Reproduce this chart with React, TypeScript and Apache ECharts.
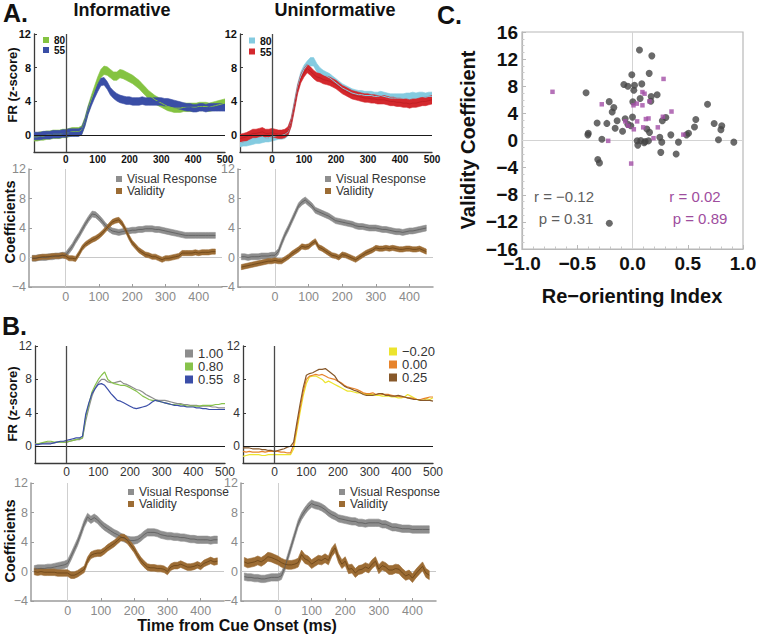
import React, { useEffect, useRef } from "react";
import * as echarts from "echarts";

// ---------- time bases (ms from cue onset) ----------
const frTimes = [-100,-90,-80,-70,-60,-50,-40,-30,-20,-10,0,10,20,30,40,50,60,70,80,90,100,110,120,130,140,150,160,170,180,190,200,210,220,230,240,250,260,270,280,290,300,310,320,330,340,350,360,370,380,390,400,410,420,430,440,450,460,470,480,490,500];
const coefTimes = [-100,-90,-80,-70,-60,-50,-40,-30,-20,-10,0,10,20,30,40,50,60,70,80,90,100,110,120,130,140,150,160,170,180,190,200,210,220,230,240,250,260,270,280,290,300,310,320,330,340,350,360,370,380,390,400,410,420,430,440,450];

// ---------- Panel A: firing rate ----------
const infoFr80 = [-0.2,-0.2,-0.1,-0.1,0.0,0.0,0.1,0.1,0.1,0.2, 0.2,0.3,0.4,0.4,0.4,0.6, 1.6,3.0,4.2,5.3,6.4,7.3,7.7, 7.6,7.3,7.0,7.0,7.3,7.2,7.0,6.8, 6.6,6.3,6.0,5.6,5.2,4.8,4.5,4.2,4.0,3.8, 3.6,3.4,3.3,3.2,3.2,3.2,3.3,3.3,3.3,3.3, 3.3,3.4,3.4,3.4,3.3,3.4,3.5,3.6,3.7,3.8];
const infoFr55 = [-0.1,-0.1,-0.1,0.0,0.0,0.0,0.1,0.1,0.1,0.2, 0.2,0.3,0.3,0.3,0.3,0.5, 1.5,2.9,3.9,4.8,5.6,6.3,6.4, 5.9,5.2,4.8,4.5,4.3,4.2,4.1,4.1, 4.0,4.0,4.0,4.1,4.0,4.0,4.0,4.0,4.0,4.0, 3.9,3.9,3.8,3.7,3.6,3.5,3.4,3.3,3.3,3.2, 3.2,3.3,3.3,3.2,3.3,3.3,3.3,3.3,3.3,3.3];
const uninfoFr80 = [-0.9,-0.8,-0.8,-0.7,-0.6,-0.5,-0.5,-0.4,-0.3,-0.3, -0.2,-0.1,0.0,0.0,0.1,0.4, 1.6,3.6,5.6,7.0,7.8,8.3,8.7, 8.7,8.0,7.5,7.2,7.0,6.8,6.5,6.2, 5.9,5.6,5.4,5.2,5.0,4.9,4.8,4.8,4.7,4.7, 4.7,4.6,4.6,4.7,4.6,4.5,4.4,4.4,4.4,4.4, 4.4,4.5,4.5,4.6,4.5,4.6,4.6,4.5,4.6,4.6];
const uninfoFr55 = [-0.4,-0.3,-0.2,0.0,0.2,0.2,0.3,0.4,0.2,0.2, 0.3,0.2,0.1,0.1,0.2,0.5, 1.5,3.4,5.4,6.7,7.4,7.9,7.6, 7.2,6.9,6.8,6.6,6.5,6.4,6.2,6.0, 5.7,5.4,5.2,5.0,4.8,4.7,4.6,4.5,4.4,4.4, 4.3,4.3,4.2,4.2,4.2,4.1,4.0,4.0,3.9,3.9, 3.8,3.8,3.7,3.8,3.8,3.9,4.0,4.0,4.1,4.2];

// ---------- Panel A: coefficients ----------
const infoVisual = [-0.1,-0.1,0.0,0.0,0.0,0.1,0.1,0.2,0.2,0.3, 0.3,0.9,1.5,2.3,3.0,3.8,4.6,5.3,5.9,5.8, 5.4,4.9,4.3,3.9,3.6,3.5,3.4,3.5,3.6,3.6, 3.7,3.7,3.8,3.8,3.9,3.9,3.9,3.8,3.8,3.7, 3.6,3.5,3.4,3.3,3.2,3.1,3.0,3.0,3.0,3.0, 3.0,3.0,3.0,3.0,3.0,3.0];
const infoValidity = [-0.1,-0.1,0.0,0.1,0.1,0.1,0.2,0.2,0.2,0.3, 0.2,-0.1,-0.1,-0.2,0.5,1.3,1.8,2.1,2.4,2.6, 2.9,3.3,3.8,4.3,4.8,5.0,5.1,4.6,3.8,2.8, 2.0,1.5,1.0,0.7,0.4,0.3,0.1,0.1,-0.1,-0.3, -0.1,-0.1,0.0,0.1,0.2,0.6,0.6,0.6,0.6,0.7, 0.6,0.7,0.7,0.7,0.8,0.8];
const uninfoVisual = [0.1,0.1,0.0,0.1,0.1,0.1,0.2,0.2,0.2,0.3, 0.3,0.8,2.0,3.1,4.0,5.0,6.0,7.0,7.5,7.8, 7.4,7.0,6.4,6.2,6.0,5.8,5.6,5.3,5.0,4.9, 4.8,4.7,4.6,4.5,4.3,4.2,4.2,4.1,4.0,4.0, 4.0,3.9,3.8,3.8,3.7,3.6,3.5,3.5,3.4,3.5, 3.6,3.6,3.7,3.8,3.9,4.0];
const uninfoValidity = [-1.3,-1.2,-1.1,-1.0,-0.9,-0.8,-0.7,-0.6,-0.5,-0.5, -0.4,-0.5,-0.5,-0.2,0.1,0.5,0.8,1.1,1.5,1.4, 1.5,1.9,2.2,1.4,1.2,0.9,0.6,0.3,0.2,0.0, 0.4,0.3,0.1,-0.1,-0.3,0.0,0.3,0.6,0.8,1.0, 1.3,1.2,1.2,1.3,1.2,1.3,1.2,1.1,1.1,1.2, 1.2,1.1,1.1,1.2,1.0,0.8];

// ---------- Panel B: firing rate by validity level ----------
const bInfo100 = [0.3,0.3,0.3,0.4,0.4,0.4,0.4,0.5,0.5,0.5, 0.5,0.6,0.7,0.8,0.8,1.0, 3.0,4.6,6.0,7.0,7.6,8.0,8.0, 7.7,7.6,7.6,7.7,7.8,7.5,7.4,7.2, 7.0,6.8,6.7,6.5,6.2,6.0,5.8,5.6,5.5,5.5, 5.5,5.4,5.3,5.2,5.1,5.1,5.0,5.0,4.9,4.9, 4.9,4.8,4.8,4.8,4.8,4.7,4.7,4.6,4.6,4.6];
const bInfo080 = [0.2,0.3,0.4,0.5,0.6,0.6,0.5,0.5,0.5,0.5, 0.5,0.6,0.7,0.8,0.9,1.0, 3.5,5.0,6.5,7.3,8.0,8.5,8.9, 8.0,7.7,7.5,7.4,7.3,7.3,7.2,7.0, 6.8,6.6,6.3,6.0,5.8,5.6,5.5,5.5,5.4,5.3, 5.2,5.1,5.0,5.0,4.9,5.0,4.9,4.8,4.8,4.8, 4.8,4.8,4.9,4.9,4.9,4.9,5.0,5.0,5.1,5.1];
const bInfo055 = [0.2,0.2,0.3,0.3,0.3,0.3,0.4,0.5,0.6,0.6, 0.7,0.8,0.9,1.0,1.0,1.2, 3.8,5.2,6.3,6.9,7.4,7.5,7.3, 6.8,6.3,5.9,5.5,5.4,5.2,5.0,4.8, 4.6,4.5,4.6,4.7,4.8,5.0,5.3,5.5,5.4,5.3, 5.2,5.1,5.0,4.9,4.9,4.8,4.8,4.7,4.7,4.7, 4.6,4.6,4.5,4.5,4.4,4.4,4.4,4.4,4.4,4.4];
const bUninfoM020 = [-1.2,-1.1,-1.0,-1.0,-1.0,-1.0,-1.1,-1.1,-1.0,-1.0, -1.0,-1.0,-1.0,-1.0,-1.0,-1.0, -0.3,1.8,4.0,6.0,7.5,8.3,8.4, 8.4,8.2,8.0,7.6,7.8,7.6,7.4,7.2, 7.0,6.8,6.6,6.6,6.5,6.4,6.4,6.3,6.2,6.2, 6.2,6.1,6.1,6.0,6.0,6.0,5.9,5.9,5.8,5.8, 5.9,6.2,6.0,5.8,5.6,5.5,5.5,5.7,5.6,5.8];
const bUninfo000 = [-0.6,-0.7,-0.6,-0.7,-0.7,-0.7,-0.6,-0.7,-0.6,-0.6, -0.6,-0.6,-0.7,-0.7,-0.8,-0.8, 0.2,2.3,4.5,6.5,8.0,8.4,8.5, 8.6,8.5,8.6,8.4,8.2,8.1,8.0,7.8, 7.6,7.3,7.1,7.0,6.9,6.8,6.6,6.4,6.3,6.3, 6.4,6.2,6.3,6.2,6.2,6.2,6.1,6.0,6.0,5.9, 5.9,5.8,5.8,5.7,5.6,5.6,5.7,5.8,5.9,5.9];
const bUninfo025 = [-0.2,-0.2,-0.2,-0.3,-0.3,-0.3,-0.4,-0.4,-0.5,-0.5, -0.6,-0.5,-0.4,-0.3,-0.1,0.0, 0.5,2.8,5.0,7.0,8.5,8.7,8.8, 9.0,9.2,9.2,9.3,9.0,8.7,8.4,7.8, 7.5,7.2,7.0,6.9,6.7,6.6,6.4,6.2,6.1,6.1, 6.1,6.2,6.3,6.3,6.1,6.1,6.0,6.0,6.1,6.0, 5.9,5.8,5.7,5.6,5.6,5.5,5.5,5.5,5.5,5.4];

// ---------- Panel B: coefficients ----------
const bInfoVisual = [0.3,0.4,0.4,0.4,0.5,0.5,0.6,0.7,0.8,0.9, 1.1,2.0,3.0,4.0,5.2,6.5,7.4,7.0,7.3,7.0, 6.5,6.1,5.8,5.5,5.2,5.0,4.7,4.5,4.3,4.2, 4.2,4.3,4.6,5.0,5.3,5.3,5.3,5.2,5.0,4.9, 4.8,4.8,4.7,4.7,4.6,4.6,4.5,4.4,4.4,4.3, 4.3,4.3,4.3,4.2,4.3,4.3];
const bInfoValidity = [0.0,-0.1,0.0,-0.1,-0.1,-0.1,-0.1,-0.2,-0.2,-0.2, -0.2,-0.5,-0.5,-0.3,0.0,0.3,1.5,2.2,2.4,2.5, 2.5,2.8,3.2,3.5,3.8,4.2,4.6,4.6,4.2,3.6, 3.0,2.2,1.5,1.0,0.6,0.5,0.5,0.4,0.4,0.3, 0.0,0.6,0.8,0.8,1.0,0.8,0.6,0.6,0.7,0.9, 0.7,1.1,1.3,1.5,1.3,1.4];
const bUninfoVisual = [-0.7,-0.8,-0.8,-0.9,-0.9,-1.0,-1.0,-0.9,-0.8,-0.8, -0.8,-0.6,0.5,2.0,3.5,5.0,6.5,7.5,8.2,8.8, 9.2,9.0,8.9,8.7,8.4,8.0,7.7,7.5,7.2,7.1, 7.0,6.9,6.8,6.8,6.6,6.6,6.5,6.6,6.6,6.6, 6.6,6.4,6.4,6.2,6.0,6.0,5.9,5.8,5.8,5.8, 5.7,5.7,5.7,5.7,5.7,5.7];
const bUninfoValidity = [1.3,1.1,1.2,1.3,1.5,1.3,1.6,2.0,1.9,1.7, 1.5,1.2,1.0,0.9,0.9,1.0,1.2,2.3,1.7,1.5, 1.0,1.3,1.6,1.5,1.8,1.5,2.6,3.2,1.8,1.0, 1.4,0.3,0.4,-0.2,0.2,0.3,0.6,0.4,1.0,1.4, 0.3,0.8,0.6,0.2,0.2,0.4,0.3,-0.2,-0.6,-0.4, -0.9,-0.3,0.2,0.7,-0.2,-0.5];

// ---------- standard-error half widths of the ribbons ----------
const seInfo80 = 0.5, seInfo55 = 0.45, seUninfo80 = 0.5, seUninfo55 = 0.5;
const seAVisual = 0.4, seAValidity = 0.35;
const seBVisual = 0.5, seBInfoValidity = 0.45, seBUninfoValidity = 0.6;

// ---------- Panel C: scatter ----------
const neuronsGray: number[][] = [[0.063,13.35],[0.175,12.48],[-0.006,9.7],[0.151,9.9],[-0.078,8.25],[-0.042,8.0],[0.018,8.15],[0.084,8.35],[0.012,7.4],[-0.42,7.04],[0.223,6.75],[0.169,6.5],[0.166,5.8],[0.069,6.2],[0.003,5.7],[-0.211,5.73],[-0.169,4.85],[-0.184,4.2],[0.679,5.34],[-0.32,2.57],[-0.232,2.52],[-0.139,2.9],[-0.066,3.2],[0.0,3.45],[-0.042,2.38],[-0.015,2.18],[-0.157,1.8],[-0.09,1.36],[0.302,3.4],[0.27,2.9],[0.573,3.1],[0.561,2.0],[0.739,2.5],[0.808,2.18],[0.8,1.6],[-0.4,1.07],[-0.404,0.83],[-0.277,0.19],[0.13,1.7],[0.154,1.2],[0.347,0.83],[0.507,1.07],[0.489,0.83],[0.247,0.49],[0.265,-0.24],[0.416,-0.24],[0.042,-0.05],[0.075,0.0],[0.115,-0.15],[0.145,-0.05],[0.048,-0.68],[0.106,-0.34],[0.778,0.1],[0.917,-0.24],[0.256,-1.75],[0.395,-1.99],[-0.314,-2.8],[-0.299,-3.3],[-0.21,-12.2]];
const neuronsPurple: number[][] = [[-0.724,7.18],[0.281,9.08],[0.09,7.14],[0.109,6.9],[0.154,5.78],[-0.278,5.34],[0.009,5.19],[0.039,5.44],[0.09,5.19],[0.353,4.27],[0.275,3.5],[0.121,3.16],[0.145,3.25],[0.042,2.82],[-0.066,2.82],[-0.039,2.18],[0.012,1.65],[0.097,1.94],[0.229,1.94],[0.46,0.87],[0.19,0.34],[-0.22,-0.05],[-0.012,-3.4]];

// tick labels
const frTickX = [0, 100, 200, 300, 400, 500];
const frTickY = [0, 4, 8, 12];
const coefTickX = [0, 100, 200, 300, 400];
const coefTickY = [-4, 0, 4, 8, 12];

const FONT = '"Liberation Sans", Arial, Helvetica, sans-serif';
const neg = (s: string) => s.replace("-", "\u2212");

const C = {
  green: "#84c341", blue: "#3a4ea6", cyan: "#84cbe0", red: "#d3282d",
  grayBand: "#8e8e8e", grayLine: "#5c5c5c", brownBand: "#9c6c34", brownLine: "#6a4418",
  bGray: "#8d8d8d", bGreen: "#87c24b", bBlue: "#3b4ea8",
  yellow: "#ece42e", orange: "#e7832b", brown25: "#87582a",
  dot: "#454545", purple: "#a24fa6",
};

function band(g: number, times: number[], vals: number[], hw: number, color: string) {
  return {
    type: "custom", xAxisIndex: g, yAxisIndex: g, silent: true, clip: true,
    data: times.map((t, i) => [t, vals[i] - hw, vals[i] + hw]),
    encode: { x: 0, y: [1, 2] },
    renderItem: (params: any, api: any) => {
      if (params.dataIndex !== 0) return null;
      const up = times.map((t, i) => api.coord([t, vals[i] + hw]));
      const lo = times.map((t, i) => api.coord([t, vals[i] - hw])).reverse();
      return { type: "polygon", shape: { points: up.concat(lo) }, style: { fill: color, stroke: color, lineWidth: 0.6 } };
    },
  };
}

function line(g: number, name: string, times: number[], vals: number[], color: string, width: number, markLine?: any) {
  const s: any = {
    type: "line", name, xAxisIndex: g, yAxisIndex: g, silent: true,
    showSymbol: false, symbol: "none",
    data: times.map((t, i) => [t, vals[i]]),
    lineStyle: { color, width }, itemStyle: { color },
  };
  if (markLine) s.markLine = markLine;
  return s;
}

const frMarks = {
  silent: true, symbol: ["none", "none"], label: { show: false }, z: 5,
  data: [
    { yAxis: 0, lineStyle: { color: "#1a1a1a", width: 1, type: "solid" } },
    { xAxis: 0, lineStyle: { color: "#4a4a4a", width: 1.3, type: "solid" } },
  ],
};
const coefMarks = {
  silent: true, symbol: ["none", "none"], label: { show: false }, z: 1,
  data: [
    { yAxis: 0, lineStyle: { color: "#c8c8c8", width: 1, type: "solid" } },
    { xAxis: 0, lineStyle: { color: "#cfcfcf", width: 1, type: "solid" } },
  ],
};

function frX(g: number, boldLabels: boolean) {
  return {
    gridIndex: g, type: "value", min: -100, max: 500,
    axisLine: { show: true, onZero: false, lineStyle: { color: "#3a3a3a", width: 1.3 } },
    axisTick: { show: false }, splitLine: { show: false },
    axisLabel: {
      customValues: frTickX, margin: boldLabels ? 2 : 3,
      fontSize: boldLabels ? 10 : 12, fontWeight: boldLabels ? "bold" : "normal",
      color: boldLabels ? "#111" : "#333", fontFamily: FONT,
    },
  };
}
function frY(g: number, boldLabels: boolean) {
  return {
    gridIndex: g, type: "value", min: -2, max: 12,
    axisLine: { show: true, onZero: false, lineStyle: { color: "#3a3a3a", width: 1.3 } },
    axisTick: { show: true, inside: true, length: 3, customValues: frTickY, lineStyle: { color: "#3a3a3a" } },
    splitLine: { show: false },
    axisLabel: {
      customValues: frTickY, margin: 3,
      fontSize: boldLabels ? 11 : 12, fontWeight: boldLabels ? "bold" : "normal",
      color: boldLabels ? "#111" : "#333", fontFamily: FONT,
    },
  };
}
function coefX(g: number) {
  return {
    gridIndex: g, type: "value", min: -110, max: 470,
    axisLine: { show: true, onZero: false, lineStyle: { color: "#9c9c9c", width: 1.5 } },
    axisTick: { show: true, inside: true, length: 3, customValues: coefTickX, lineStyle: { color: "#9c9c9c" } },
    splitLine: { show: false },
    axisLabel: { customValues: coefTickX, margin: 3, fontSize: 12.5, color: "#8a8a8a", fontFamily: FONT },
  };
}
function coefY(g: number) {
  return {
    gridIndex: g, type: "value", min: -4, max: 12,
    axisLine: { show: true, onZero: false, lineStyle: { color: "#9c9c9c", width: 1.5 } },
    axisTick: { show: true, inside: true, length: 3, customValues: coefTickY, lineStyle: { color: "#9c9c9c" } },
    splitLine: { show: false },
    axisLabel: {
      customValues: coefTickY, margin: 3, fontSize: 12.5, color: "#8a8a8a", fontFamily: FONT,
      formatter: (v: number) => neg(String(v)),
    },
  };
}

function legendBox(left: number, top: number, items: { name: string; color: string }[], size: number, fontSize: number, bold: boolean, color: string) {
  return {
    left, top, orient: "vertical", icon: "rect", itemWidth: size, itemHeight: size, itemGap: 0, padding: 0,
    selectedMode: false,
    textStyle: { fontSize, fontWeight: bold ? "bold" : "normal", color, fontFamily: FONT },
    data: items.map((it) => ({ name: it.name, itemStyle: { color: it.color, borderWidth: 0 } })),
  };
}

function txt(text: string, x: number, y: number, size: number, opts: any = {}) {
  return {
    type: "text", x, y, rotation: opts.rotation || 0, silent: true,
    style: {
      text, fontSize: size, fontWeight: opts.weight || "bold", fontFamily: FONT,
      fill: opts.fill || "#111",
      align: opts.align || "center", textAlign: opts.align || "center",
      verticalAlign: "middle", textVerticalAlign: "middle",
    },
  };
}

function buildOption() {
  const grids = [
    { left: 34, top: 34, width: 191, height: 118 },
    { left: 240, top: 34, width: 192, height: 118 },
    { left: 29, top: 169, width: 193, height: 118 },
    { left: 238, top: 169, width: 195, height: 118 },
    { left: 35, top: 346, width: 190, height: 117 },
    { left: 243, top: 346, width: 190, height: 117 },
    { left: 31, top: 483, width: 193, height: 118 },
    { left: 241, top: 483, width: 195, height: 118 },
    { left: 522, top: 32, width: 221, height: 217, show: true, borderColor: "#b8b8b8", borderWidth: 1.2 },
  ].map((g: any) => ({ ...g, containLabel: false, outerBoundsMode: "none" }));

  const xAxis: any[] = [
    frX(0, true), frX(1, true), coefX(2), coefX(3), frX(4, false), frX(5, false), coefX(6), coefX(7),
    {
      gridIndex: 8, type: "value", min: -1, max: 1, interval: 0.5,
      axisLine: { show: true, onZero: false, lineStyle: { color: "#b8b8b8", width: 1.2 } },
      axisTick: { show: true, inside: true, length: 4, lineStyle: { color: "#b8b8b8" } },
      minorTick: { show: true, splitNumber: 5, length: 2.5, lineStyle: { color: "#c8c8c8" } },
      splitLine: { show: false },
      axisLabel: { fontSize: 19, fontWeight: "bold", color: "#111", margin: 5, fontFamily: FONT, formatter: (v: number) => neg(v.toFixed(1)) },
    },
  ];
  const yAxis: any[] = [
    frY(0, true), frY(1, true), coefY(2), coefY(3), frY(4, false), frY(5, false), coefY(6), coefY(7),
    {
      gridIndex: 8, type: "value", min: -16, max: 16, interval: 4,
      axisLine: { show: true, onZero: false, lineStyle: { color: "#b8b8b8", width: 1.2 } },
      axisTick: { show: true, inside: true, length: 4, lineStyle: { color: "#b8b8b8" } },
      minorTick: { show: true, splitNumber: 4, length: 2.5, lineStyle: { color: "#c8c8c8" } },
      splitLine: { show: false },
      axisLabel: { fontSize: 19, fontWeight: "bold", color: "#111", margin: 4, fontFamily: FONT, formatter: (v: number) => neg(String(v)) },
    },
  ];

  const series: any[] = [
    // A top-left: informative FR
    band(0, frTimes, infoFr80, seInfo80, C.green),
    line(0, "80", frTimes, infoFr80, C.green, 1, frMarks),
    band(0, frTimes, infoFr55, seInfo55, C.blue),
    line(0, "55", frTimes, infoFr55, C.blue, 1),
    // A top-right: uninformative FR
    band(1, frTimes, uninfoFr80, seUninfo80, C.cyan),
    line(1, "80", frTimes, uninfoFr80, C.cyan, 1, frMarks),
    band(1, frTimes, uninfoFr55, seUninfo55, C.red),
    line(1, "55", frTimes, uninfoFr55, "#c01f24", 1),
    // A bottom-left
    band(2, coefTimes, infoVisual, seAVisual, C.grayBand),
    line(2, "Visual Response", coefTimes, infoVisual, C.grayLine, 0.8, coefMarks),
    band(2, coefTimes, infoValidity, seAValidity, C.brownBand),
    line(2, "Validity", coefTimes, infoValidity, C.brownLine, 0.8),
    // A bottom-right
    band(3, coefTimes, uninfoVisual, seAVisual, C.grayBand),
    line(3, "Visual Response", coefTimes, uninfoVisual, C.grayLine, 0.8, coefMarks),
    band(3, coefTimes, uninfoValidity, seAValidity, C.brownBand),
    line(3, "Validity", coefTimes, uninfoValidity, C.brownLine, 0.8),
    // B top-left
    line(4, "1.00", frTimes, bInfo100, C.bGray, 1.2, frMarks),
    line(4, "0.80", frTimes, bInfo080, C.bGreen, 1.2),
    line(4, "0.55", frTimes, bInfo055, C.bBlue, 1.2),
    // B top-right
    line(5, "\u22120.20", frTimes, bUninfoM020, C.yellow, 1.2, frMarks),
    line(5, "0.00", frTimes, bUninfo000, C.orange, 1.2),
    line(5, "0.25", frTimes, bUninfo025, C.brown25, 1.2),
    // B bottom-left
    band(6, coefTimes, bInfoVisual, seBVisual, C.grayBand),
    line(6, "Visual Response", coefTimes, bInfoVisual, C.grayLine, 0.8, coefMarks),
    band(6, coefTimes, bInfoValidity, seBInfoValidity, C.brownBand),
    line(6, "Validity", coefTimes, bInfoValidity, C.brownLine, 0.8),
    // B bottom-right
    band(7, coefTimes, bUninfoVisual, seBVisual, C.grayBand),
    line(7, "Visual Response", coefTimes, bUninfoVisual, C.grayLine, 0.8, coefMarks),
    band(7, coefTimes, bUninfoValidity, seBUninfoValidity, C.brownBand),
    line(7, "Validity", coefTimes, bUninfoValidity, C.brownLine, 0.8),
    // C scatter
    {
      type: "scatter", name: "all neurons", xAxisIndex: 8, yAxisIndex: 8, silent: true,
      symbol: "circle", symbolSize: 7, itemStyle: { color: C.dot }, data: neuronsGray,
      markLine: {
        silent: true, symbol: ["none", "none"], label: { show: false }, z: 1,
        data: [
          { yAxis: 0, lineStyle: { color: "#d3d3d3", width: 1, type: "solid" } },
          { xAxis: 0, lineStyle: { color: "#d3d3d3", width: 1, type: "solid" } },
        ],
      },
    },
    {
      type: "scatter", name: "subset", xAxisIndex: 8, yAxisIndex: 8, silent: true,
      symbol: "rect", symbolSize: 4.5, itemStyle: { color: C.purple }, data: neuronsPurple,
    },
  ];

  const legend = [
    legendBox(43, 35, [{ name: "80", color: C.green }, { name: "55", color: C.blue }], 6, 10, true, "#111"),
    legendBox(249, 35, [{ name: "80", color: C.cyan }, { name: "55", color: C.red }], 6, 10.5, true, "#111"),
    legendBox(116, 173, [{ name: "Visual Response", color: C.grayBand }, { name: "Validity", color: C.brownBand }], 6, 12, false, "#333"),
    legendBox(325, 173, [{ name: "Visual Response", color: C.grayBand }, { name: "Validity", color: C.brownBand }], 6, 12, false, "#333"),
    legendBox(185, 347, [{ name: "1.00", color: C.bGray }, { name: "0.80", color: C.bGreen }, { name: "0.55", color: C.bBlue }], 8, 13, false, "#333"),
    legendBox(389, 345, [{ name: "\u22120.20", color: C.yellow }, { name: "0.00", color: C.orange }, { name: "0.25", color: C.brown25 }], 8, 13, false, "#333"),
    legendBox(128, 486, [{ name: "Visual Response", color: C.grayBand }, { name: "Validity", color: C.brownBand }], 6, 12, false, "#333"),
    legendBox(339, 486, [{ name: "Visual Response", color: C.grayBand }, { name: "Validity", color: C.brownBand }], 6, 12, false, "#333"),
  ];

  const R = Math.PI / 2;
  const graphic = [
    txt("A.", 3, 13, 25, { align: "left" }),
    txt("Informative", 122, 10, 18),
    txt("Uninformative", 335, 10, 18),
    txt("B.", 2, 326, 25, { align: "left" }),
    txt("C.", 437, 15, 25, { align: "left" }),
    txt("FR (z-score)", 12, 85, 13, { rotation: R }),
    txt("Coefficients", 10, 222, 14.5, { rotation: R }),
    txt("FR (z-score)", 12, 404, 13, { rotation: R }),
    txt("Coefficients", 10, 541, 14.5, { rotation: R }),
    txt("Time from Cue Onset (ms)", 237, 625.5, 16),
    txt("Validity Coefficient", 468, 140, 20, { rotation: R }),
    txt("Re\u2212orienting Index", 632, 296, 20),
    txt("r = \u22120.12", 564, 196, 15, { weight: "normal", fill: "#5e5e5e" }),
    txt("p = 0.31", 566, 218, 15, { weight: "normal", fill: "#5e5e5e" }),
    txt("r = 0.02", 695, 196, 15, { weight: "normal", fill: "#9e4d9e" }),
    txt("p = 0.89", 700, 218, 15, { weight: "normal", fill: "#9e4d9e" }),
  ];

  return {
    animation: false,
    backgroundColor: "#ffffff",
    textStyle: { fontFamily: FONT },
    grid: grids,
    xAxis, yAxis, series, legend, graphic,
  };
}

export default function App() {
  const ref = useRef<HTMLDivElement>(null);
  useEffect(() => {
    if (!ref.current) return;
    const chart = echarts.init(ref.current, undefined, { renderer: "svg" });
    chart.setOption(buildOption() as any);
    return () => chart.dispose();
  }, []);
  return (
    <div
      ref={ref}
      style={{ position: "fixed", left: 0, top: 0, width: 757, height: 634, background: "#fff" }}
    />
  );
}
